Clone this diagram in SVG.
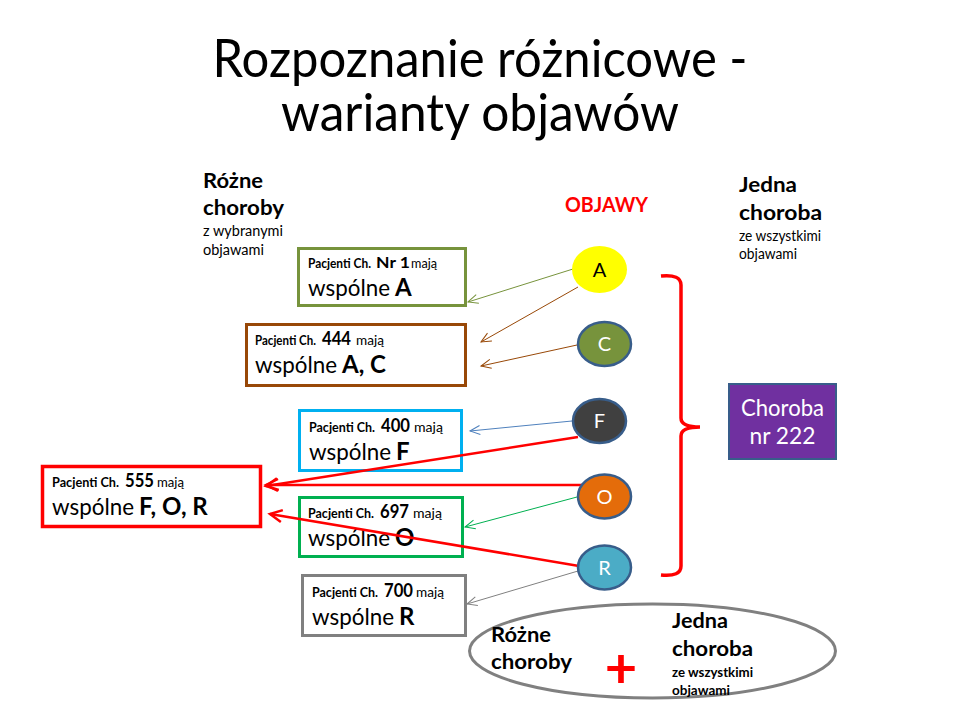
<svg xmlns="http://www.w3.org/2000/svg" width="960" height="720" viewBox="0 0 960 720">
<style>
text{font-family:Lato,"Open Sans","Liberation Sans",sans-serif;fill:#000}
.title{font-size:53px;text-anchor:middle}
.h{font-size:21.3px;font-weight:bold}
.s{font-size:14.5px}
.sb{font-size:13.3px;font-weight:bold}
.nb{font-size:18.7px;font-weight:bold}
.w{font-size:24px}
.wb{font-size:24px;font-weight:bold}
.box{fill:#fff;stroke-width:3}
.sym{stroke:#385D8A;stroke-width:2.5}
.ct{font-size:20px;text-anchor:middle;fill:#fff}
.thin{fill:none;stroke-width:1}
.red{fill:none;stroke:#FF0000;stroke-width:2.5}
</style>
<defs>
<marker id="m-olive" markerUnits="userSpaceOnUse" orient="auto" overflow="visible" refX="0" refY="0" markerWidth="20" markerHeight="20"><path d="M-10,-4.5 L0,0 L-10,4.5" fill="none" stroke="#77933C" stroke-width="1"/></marker>
<marker id="m-brown" markerUnits="userSpaceOnUse" orient="auto" overflow="visible" refX="0" refY="0" markerWidth="20" markerHeight="20"><path d="M-10,-4.5 L0,0 L-10,4.5" fill="none" stroke="#984807" stroke-width="1"/></marker>
<marker id="m-blue" markerUnits="userSpaceOnUse" orient="auto" overflow="visible" refX="0" refY="0" markerWidth="20" markerHeight="20"><path d="M-10,-4.5 L0,0 L-10,4.5" fill="none" stroke="#4F81BD" stroke-width="1"/></marker>
<marker id="m-green" markerUnits="userSpaceOnUse" orient="auto" overflow="visible" refX="0" refY="0" markerWidth="20" markerHeight="20"><path d="M-10,-4.5 L0,0 L-10,4.5" fill="none" stroke="#00B050" stroke-width="1"/></marker>
<marker id="m-gray" markerUnits="userSpaceOnUse" orient="auto" overflow="visible" refX="0" refY="0" markerWidth="20" markerHeight="20"><path d="M-10,-4.5 L0,0 L-10,4.5" fill="none" stroke="#808080" stroke-width="1"/></marker>
<marker id="m-red" markerUnits="userSpaceOnUse" orient="auto" overflow="visible" refX="0" refY="0" markerWidth="30" markerHeight="30"><path d="M-12,-6 L0,0 L-12,6" fill="none" stroke="#FF0000" stroke-width="2.5"/></marker>
</defs>
<rect width="960" height="720" fill="#fff"/>

<g id="title">
<text class="title" x="480" y="77" textLength="535" lengthAdjust="spacingAndGlyphs">Rozpoznanie różnicowe -</text>
<text class="title" x="480" y="131" textLength="398" lengthAdjust="spacingAndGlyphs">warianty objawów</text>
</g>

<g id="label-rozne">
<text class="h" x="203" y="188" textLength="60" lengthAdjust="spacingAndGlyphs">Różne</text>
<text class="h" x="203" y="215" textLength="81" lengthAdjust="spacingAndGlyphs">choroby</text>
<text class="s" x="203" y="236" textLength="80" lengthAdjust="spacingAndGlyphs">z wybranymi</text>
<text class="s" x="203" y="255" textLength="61" lengthAdjust="spacingAndGlyphs">objawami</text>
</g>

<g id="label-objawy">
<text x="565" y="212" style="font-size:20px;font-weight:bold;fill:#FF0000" textLength="83" lengthAdjust="spacingAndGlyphs">OBJAWY</text>
</g>

<g id="label-jedna">
<text class="h" x="739" y="192" textLength="58" lengthAdjust="spacingAndGlyphs">Jedna</text>
<text class="h" x="739" y="220" textLength="83" lengthAdjust="spacingAndGlyphs">choroba</text>
<text class="s" x="739" y="241" textLength="82" lengthAdjust="spacingAndGlyphs">ze wszystkimi</text>
<text class="s" x="739" y="259" textLength="58" lengthAdjust="spacingAndGlyphs">objawami</text>
</g>

<g id="box-nr1">
<rect class="box" x="298.5" y="248.5" width="167" height="57" stroke="#77933C"/>
<text class="sb" x="308" y="268" textLength="63" lengthAdjust="spacingAndGlyphs">Pacjenti Ch.</text>
<text class="nb" x="376" y="268" style="font-size:16px" textLength="34" lengthAdjust="spacingAndGlyphs">Nr 1</text>
<text class="s" x="411" y="268" style="font-size:13.3px" textLength="26" lengthAdjust="spacingAndGlyphs">mają</text>
<text class="w" x="308" y="296" textLength="82" lengthAdjust="spacingAndGlyphs">wspólne</text>
<text class="wb" x="395" y="296">A</text>
</g>

<g id="box-444">
<rect class="box" x="246.5" y="324.5" width="219" height="61" stroke="#984807"/>
<text class="sb" x="255" y="345" textLength="61" lengthAdjust="spacingAndGlyphs">Pacjenti Ch.</text>
<text class="nb" x="322" y="345" textLength="29" lengthAdjust="spacingAndGlyphs">444</text>
<text class="s" x="356" y="345" style="font-size:13.3px" textLength="28" lengthAdjust="spacingAndGlyphs">mają</text>
<text class="w" x="255" y="373" textLength="82" lengthAdjust="spacingAndGlyphs">wspólne</text>
<text class="wb" x="342" y="373">A, C</text>
</g>

<g id="box-400">
<rect class="box" x="299.5" y="410.5" width="162" height="60" stroke="#00B0F0"/>
<text class="sb" x="309" y="432" textLength="66" lengthAdjust="spacingAndGlyphs">Pacjenti Ch.</text>
<text class="nb" x="381" y="432" textLength="29" lengthAdjust="spacingAndGlyphs">400</text>
<text class="s" x="414" y="432" style="font-size:13.3px" textLength="29" lengthAdjust="spacingAndGlyphs">mają</text>
<text class="w" x="309" y="460" textLength="82" lengthAdjust="spacingAndGlyphs">wspólne</text>
<text class="wb" x="396" y="460">F</text>
</g>

<g id="box-555">
<rect class="box" x="42.5" y="466.5" width="218" height="60" stroke="#FF0000" style="stroke-width:3.5"/>
<text class="sb" x="52" y="487" textLength="67" lengthAdjust="spacingAndGlyphs">Pacjenti Ch.</text>
<text class="nb" x="125" y="487" textLength="29" lengthAdjust="spacingAndGlyphs">555</text>
<text class="s" x="157" y="487" style="font-size:13.3px" textLength="27" lengthAdjust="spacingAndGlyphs">mają</text>
<text class="w" x="52" y="515" textLength="82" lengthAdjust="spacingAndGlyphs">wspólne</text>
<text class="wb" x="139" y="515">F, O, R</text>
</g>

<g id="box-697">
<rect class="box" x="299.5" y="497.5" width="163" height="59" stroke="#00B050"/>
<text class="sb" x="308" y="518" textLength="66" lengthAdjust="spacingAndGlyphs">Pacjenti Ch.</text>
<text class="nb" x="380" y="518" textLength="29" lengthAdjust="spacingAndGlyphs">697</text>
<text class="s" x="413" y="518" style="font-size:13.3px" textLength="29" lengthAdjust="spacingAndGlyphs">mają</text>
<text class="w" x="308" y="546" textLength="82" lengthAdjust="spacingAndGlyphs">wspólne</text>
<text class="wb" x="395" y="546">O</text>
</g>

<g id="box-700">
<rect class="box" x="302.5" y="575.5" width="163" height="60" stroke="#808080"/>
<text class="sb" x="312" y="597" textLength="66" lengthAdjust="spacingAndGlyphs">Pacjenti Ch.</text>
<text class="nb" x="384" y="597" textLength="29" lengthAdjust="spacingAndGlyphs">700</text>
<text class="s" x="416" y="597" style="font-size:13.3px" textLength="28" lengthAdjust="spacingAndGlyphs">mają</text>
<text class="w" x="312" y="625" textLength="82" lengthAdjust="spacingAndGlyphs">wspólne</text>
<text class="wb" x="399" y="625">R</text>
</g>

<g id="connectors">
<path class="thin" d="M573,269 L468,302" stroke="#77933C" marker-end="url(#m-olive)"/>
<path class="thin" d="M578,287 L481,342" stroke="#984807" marker-end="url(#m-brown)"/>
<path class="thin" d="M577,345 L481,366" stroke="#984807" marker-end="url(#m-brown)"/>
<path class="thin" d="M572,421 L470,431" stroke="#4F81BD" marker-end="url(#m-blue)"/>
<path class="red" d="M578,437 L266,486" marker-end="url(#m-red)"/>
<path class="red" d="M585,485 L266,485" marker-end="url(#m-red)"/>
<path class="thin" d="M577,497 L465,527" stroke="#00B050" marker-end="url(#m-green)"/>
<path class="red" d="M579,566 L270,514" marker-end="url(#m-red)"/>
<path class="thin" d="M578,571 L467,604" stroke="#808080" marker-end="url(#m-gray)"/>
<path id="brace" d="M661,276 Q681,274 681,285 L681,418 Q681,427 700,427 Q681,427 681,436 L681,566 Q681,577 661,575" fill="none" stroke="#FF0000" stroke-width="3.5"/>
</g>

<g id="sym-A">
<ellipse cx="599.5" cy="269.5" rx="27.5" ry="23.5" fill="#FFFF00"/>
<text class="ct" x="599.5" y="277" style="fill:#000">A</text>
</g>
<g id="sym-C">
<ellipse class="sym" cx="604.5" cy="344" rx="26.5" ry="22" fill="#77933C"/>
<text class="ct" x="604.5" y="351">C</text>
</g>
<g id="sym-F">
<ellipse class="sym" cx="599.5" cy="421" rx="26.5" ry="22" fill="#404040"/>
<text class="ct" x="599.5" y="428">F</text>
</g>
<g id="sym-O">
<ellipse class="sym" cx="604.5" cy="496.5" rx="26.5" ry="22" fill="#E46C0A"/>
<text class="ct" x="604.5" y="503.5">O</text>
</g>
<g id="sym-R">
<ellipse class="sym" cx="604.5" cy="567.5" rx="26.5" ry="22" fill="#4BACC6"/>
<text class="ct" x="604.5" y="574.5">R</text>
</g>

<g id="choroba-222">
<rect x="729" y="384" width="107" height="75" fill="#7030A0" stroke="#385D8A" stroke-width="2"/>
<text x="782.5" y="416" style="font-size:24px;text-anchor:middle;fill:#fff" textLength="83" lengthAdjust="spacingAndGlyphs">Choroba</text>
<text x="782.5" y="444" style="font-size:24px;text-anchor:middle;fill:#fff" textLength="66" lengthAdjust="spacingAndGlyphs">nr 222</text>
</g>

<g id="summary">
<ellipse cx="652.5" cy="651" rx="183" ry="47" fill="none" stroke="#808080" stroke-width="3"/>
<text class="h" x="491" y="642" textLength="60" lengthAdjust="spacingAndGlyphs">Różne</text>
<text class="h" x="491" y="669" textLength="81" lengthAdjust="spacingAndGlyphs">choroby</text>
<text x="621" y="688" style="font-size:56px;font-weight:bold;fill:#FF0000;text-anchor:middle">+</text>
<text class="h" x="672" y="628" textLength="56" lengthAdjust="spacingAndGlyphs">Jedna</text>
<text class="h" x="672" y="656" textLength="81" lengthAdjust="spacingAndGlyphs">choroba</text>
<text class="sb" x="672" y="677" textLength="81" lengthAdjust="spacingAndGlyphs">ze wszystkimi</text>
<text class="sb" x="672" y="695" textLength="58" lengthAdjust="spacingAndGlyphs">objawami</text>
</g>
</svg>
